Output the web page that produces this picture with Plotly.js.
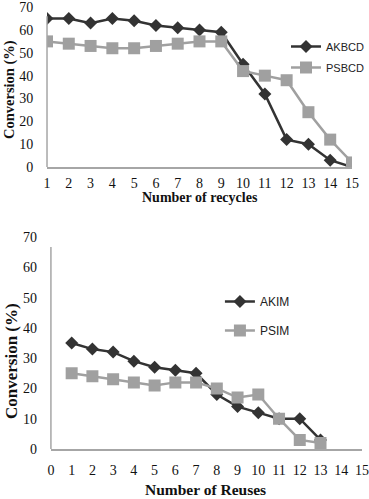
<!DOCTYPE html>
<html>
<head>
<meta charset="utf-8">
<script src="https://cdn.plot.ly/plotly-3.0.1.min.js"></script>
<style>
  html, body { margin: 0; padding: 0; background: #fff; overflow: hidden; }
  /* div is a bit bigger than the window so tick labels near the edges are not hidden */
  #chart { width: 380px; height: 519px; margin-top: -20px; }
</style>
</head>
<body>
<div id="chart"></div>
<script>
// top panel: recycles
const recycles = [1, 2, 3, 4, 5, 6, 7, 8, 9, 10, 11, 12, 13, 14, 15];
const akbcd = [65, 65, 63, 65, 64, 62, 61, 60, 59, 45, 32, 12, 10, 3, 0];
const psbcd = [55, 54, 53, 52, 52, 53, 54, 55, 55, 42, 40, 38, 24, 12, 2];

// bottom panel: reuses
const reuses = [1, 2, 3, 4, 5, 6, 7, 8, 9, 10, 11, 12, 13];
const akim = [35, 33, 32, 29, 27, 26, 25, 18, 14, 12, 10, 10, 3];
const psim = [25, 24, 23, 22, 21, 22, 22, 20, 17, 18, 10, 3, 2];

const yTicks = [0, 10, 20, 30, 40, 50, 60, 70];

const dark = '#333333';
const grey = '#a0a0a0';
const axisGrey = '#a6a6a6';
const serif = 'Liberation Serif, Times New Roman, serif';
const sans = 'Liberation Sans, Arial, sans-serif';

function series(x, y, name, color, symbol, size, xa, ya, legend) {
    return {
        x, y, name, type: 'scatter', mode: 'lines+markers',
        xaxis: xa, yaxis: ya, legend, legendgroup: name,
        line: {color, width: 2.5},
        marker: {color, symbol, size},
    };
}

const data = [
    series(recycles, akbcd, 'AKBCD', dark, 'diamond', 10, 'x', 'y', 'legend'),
    series(recycles, psbcd, 'PSBCD', grey, 'square', 12, 'x', 'y', 'legend'),
    series(reuses, akim, 'AKIM', dark, 'diamond', 10, 'x2', 'y2', 'legend2'),
    series(reuses, psim, 'PSIM', grey, 'square', 12, 'x2', 'y2', 'legend2'),
];

const tickFont = {family: serif, size: 14, color: '#111'};

function xax(domain, anchor, range, standoff) {
    return {
        domain, anchor, range, dtick: 1, tick0: 0,
        showgrid: false, zeroline: false,
        showline: true, linecolor: axisGrey, linewidth: 1.5,
        ticks: '', ticklabelstandoff: standoff, tickfont: tickFont,
        ticklabeloverflow: 'allow',
    };
}

function yax(domain, anchor) {
    return {
        domain, anchor, range: [0, 70.5], tickmode: 'array', tickvals: yTicks,
        showgrid: false, zeroline: false, showline: false,
        ticks: 'outside', ticklen: 10, tickcolor: 'rgba(0,0,0,0)', tickfont: tickFont,
        ticklabeloverflow: 'allow',
    };
}

function title(text, x, y, size, angle) {
    return {
        text: '<b>' + text + '</b>', xref: 'paper', yref: 'paper',
        x, y, xanchor: 'center', yanchor: 'middle', showarrow: false,
        textangle: angle, font: {family: serif, size, color: '#111'},
    };
}

const layout = {
    width: 380,
    height: 519,
    // plot area is exactly the 369x499 window
    margin: {l: 0, r: 11, t: 20, b: 0},
    paper_bgcolor: '#fff',
    plot_bgcolor: '#fff',
    showlegend: true,
    hovermode: false,
    xaxis: xax([0.1274, 0.9539], 'y', [1, 15], 3),
    yaxis: yax([0.6653, 0.988], 'x'),
    xaxis2: xax([0.138, 0.981], 'y2', [0, 15], 8),
    yaxis2: yax([0.1002, 0.528], 'x2'),
    annotations: [
        title('Number of recycles', 200 / 369, 1 - 198 / 499, 14, 0),
        title('Conversion (%)', 10 / 369, 1 - 90 / 499, 14.5, -90),
        title('Number of Reuses', 205 / 369, 1 - 489 / 499, 15.5, 0),
        title('Conversion (%)', 11 / 369, 1 - 361 / 499, 17, -90),
    ],
    legend: {
        x: 0.775, y: 1 - 32 / 499, xanchor: 'left', yanchor: 'top',
        font: {family: sans, size: 11, color: '#222'},
        bgcolor: 'rgba(0,0,0,0)', tracegroupgap: 2,
    },
    legend2: {
        x: 0.596, y: 1 - 287 / 499, xanchor: 'left', yanchor: 'top',
        font: {family: sans, size: 12, color: '#222'},
        bgcolor: 'rgba(0,0,0,0)', tracegroupgap: 10,
    },
    // y axis lines stop a little short of the top tick, as in the original
    shapes: [
        {type: 'line', xref: 'x domain', yref: 'y', x0: 0, x1: 0, y0: 0, y1: 66,
         line: {color: axisGrey, width: 1.5}},
        {type: 'line', xref: 'x2 domain', yref: 'y2', x0: 0, x1: 0, y0: 0, y1: 66.7,
         line: {color: axisGrey, width: 1.5}},
    ],
};

Plotly.newPlot('chart', data, layout, {displayModeBar: false, staticPlot: true});
</script>
</body>
</html>
